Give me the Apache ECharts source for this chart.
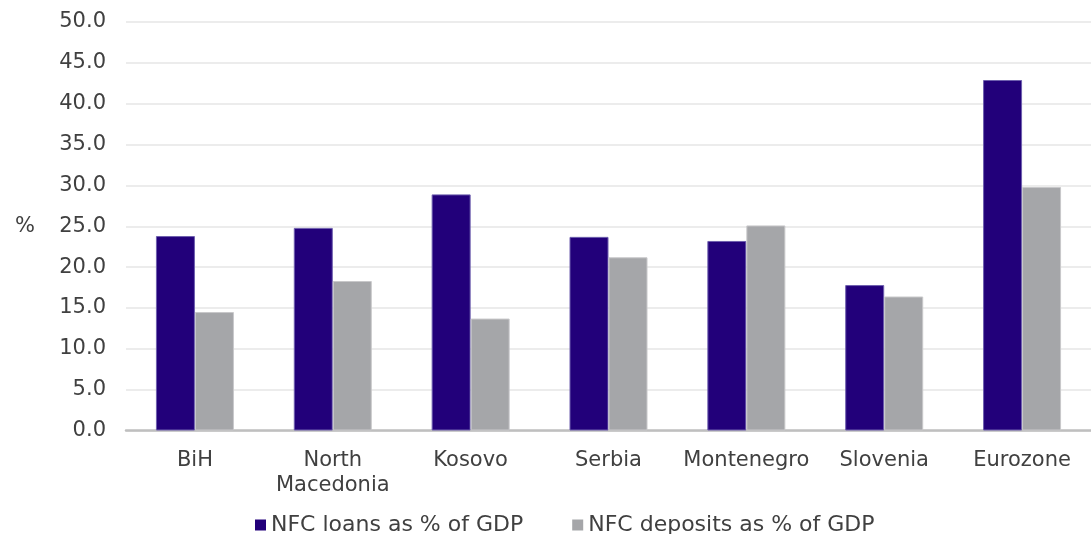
<!DOCTYPE html>
<html>
<head>
<meta charset="utf-8">
<script src="https://cdn.jsdelivr.net/npm/echarts@6/dist/echarts.min.js"></script>
<style>html,body{margin:0;padding:0;background:#fff}#chart{width:1091px;height:534px}</style>
</head>
<body>
<div id="chart"></div>
<script>
const categories = ['BiH', 'North\nMacedonia', 'Kosovo', 'Serbia', 'Montenegro', 'Slovenia', 'Eurozone'];
const loans = [23.8, 24.8, 28.9, 23.7, 23.2, 17.8, 42.9];
const deposits = [14.5, 18.3, 13.7, 21.2, 25.1, 16.4, 29.8];
const seriesNames = ['NFC loans as % of GDP', 'NFC deposits as % of GDP'];
const yUnit = '%';

const FONT = 'DejaVu Sans';
const chart = echarts.init(document.getElementById('chart'), null, {renderer: 'canvas'});
chart.setOption({
  animation: false,
  backgroundColor: '#ffffff',
  textStyle: {fontFamily: FONT},
  grid: {left: 126, top: 22, width: 969, height: 408.5},
  legend: {
    left: 250, top: 509,
    itemWidth: 11, itemHeight: 11, itemGap: 49,
    icon: 'rect',
    itemStyle: {borderWidth: 0},
    textStyle: {fontFamily: FONT, fontSize: 22, color: '#404040'},
    data: seriesNames
  },
  graphic: [{
    type: 'text', left: 15, top: 216,
    style: {text: yUnit, font: '21px "DejaVu Sans"', fill: '#404040'}
  }],
  xAxis: {
    type: 'category',
    data: categories,
    axisTick: {show: false},
    axisLine: {lineStyle: {color: '#BFBFBF', width: 2.5}},
    axisLabel: {interval: 0, fontFamily: FONT, fontSize: 21, color: '#404040', margin: 18, lineHeight: 25}
  },
  yAxis: {
    type: 'value', min: 0, max: 50, interval: 5,
    axisLine: {show: false}, axisTick: {show: false},
    splitLine: {lineStyle: {color: '#E6E6E6', width: 1.5}},
    axisLabel: {fontFamily: FONT, fontSize: 21, color: '#404040', margin: 20,
      formatter: v => v.toFixed(1)}
  },
  series: [
    {name: seriesNames[0], type: 'bar', data: loans, barWidth: 39, barGap: '0%',
     itemStyle: {color: '#22007A', borderColor: '#6E5FAE', borderWidth: 1}},
    {name: seriesNames[1], type: 'bar', data: deposits, barWidth: 39,
     itemStyle: {color: '#A5A6A9', borderColor: '#C8C8CA', borderWidth: 1}}
  ]
});
</script>
</body>
</html>
